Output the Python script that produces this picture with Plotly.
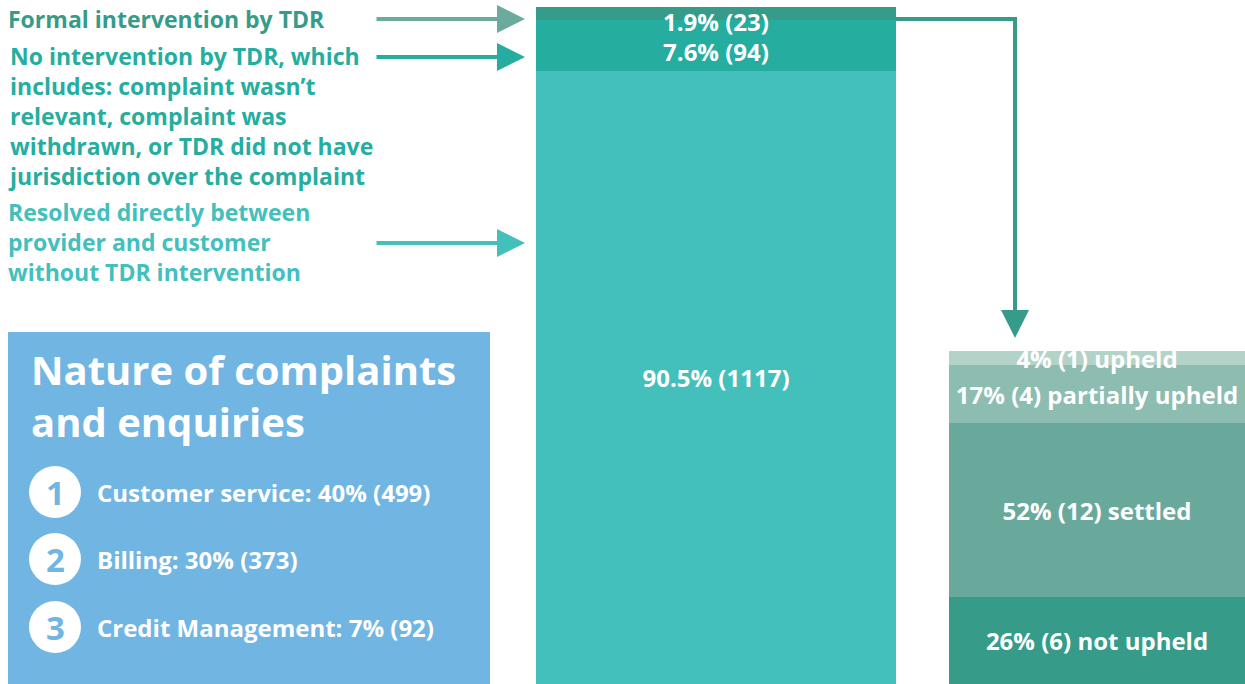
import plotly.graph_objects as go

# ---- data ----
main_categories = ["Resolved directly between provider and customer without TDR intervention",
                   "No intervention by TDR",
                   "Formal intervention by TDR"]
main_counts = [1117, 94, 23]
main_labels = ["90.5% (1117)", "7.6% (94)", "1.9% (23)"]

outcome_categories = ["not upheld", "settled", "partially upheld", "upheld"]
outcome_counts = [6, 12, 4, 1]
outcome_labels = ["26% (6) not upheld", "52% (12) settled", "17% (4) partially upheld", "4% (1) upheld"]

nature_title = "Nature of complaints<br>and enquiries"
nature_numbers = ["1", "2", "3"]
nature_labels = ["Customer service: 40% (499)", "Billing: 30% (373)", "Credit Management: 7% (92)"]

left_texts = [
    "Formal intervention by TDR",
    "No intervention by TDR, which<br>includes: complaint wasn\u2019t<br>relevant, complaint was<br>withdrawn, or TDR did not have<br>jurisdiction over the complaint",
    "Resolved directly between<br>provider and customer<br>without TDR intervention",
]

# ---- styles ----
W, H = 1245, 684
FONT = "Open Sans"
main_colors = ["#43bfbc", "#25ad9f", "#379b89"]
main_anchor = ["middle", "start", "middle"]
outcome_colors = ["#379b89", "#69a99c", "#8dbcb1", "#b3d3c9"]
left_text_colors = ["#379b89", "#25ad9f", "#43bfbc"]
arrow_colors = ["#6aab9e", "#25ad9f", "#43bfbc"]
BOX_BLUE = "#71b5e3"
LABEL_SIZE = 24


def py(p):
    return 1 - p / H


fig = go.Figure()

main_x, main_w = 716, 360
out_x, out_w = 1097, 296

for i, (cat, val, lab, col, anc) in enumerate(zip(main_categories, main_counts, main_labels,
                                                   main_colors, main_anchor)):
    is_top = i == len(main_counts) - 1
    fig.add_trace(go.Bar(
        x=[main_x], y=[val], width=[main_w], name=cat,
        marker=dict(color=col, line=dict(width=0)),
        text=None if is_top else [lab], textposition="inside", insidetextanchor=anc,
        constraintext="none", textangle=0,
        textfont=dict(family=FONT, size=LABEL_SIZE, color="white", weight=700),
        hoverinfo="skip", xaxis="x", yaxis="y",
    ))

for cat, val, lab, col in zip(outcome_categories, outcome_counts, outcome_labels, outcome_colors):
    fig.add_trace(go.Bar(
        x=[out_x], y=[val], width=[out_w], name=cat,
        marker=dict(color=col, line=dict(width=0)),
        text=[lab], textposition="inside", insidetextanchor="middle",
        constraintext="none", textangle=0,
        textfont=dict(family=FONT, size=LABEL_SIZE, color="white", weight=700),
        hoverinfo="skip", xaxis="x", yaxis="y2",
    ))

shapes = []
annotations = []

# label of the thin top segment, hung from the top of the main bar
annotations.append(dict(xref="x", yref="y", x=main_x, y=sum(main_counts), yanchor="top", yshift=4,
                        xanchor="center", text=main_labels[-1], showarrow=False,
                        font=dict(family=FONT, size=LABEL_SIZE, color="white", weight=700)))

# blue box
shapes.append(dict(type="rect", xref="paper", yref="paper", x0=8 / W, x1=490 / W, y0=py(684), y1=py(332),
                   fillcolor=BOX_BLUE, line=dict(width=0), layer="below"))
annotations.append(dict(xref="paper", yref="paper", x=29 / W, y=py(395), xanchor="left", yanchor="middle",
                        text=nature_title, align="left", showarrow=False,
                        font=dict(family=FONT, size=40, color="white", weight=700)))
for i, (num, lab) in enumerate(zip(nature_numbers, nature_labels)):
    cy = [492, 559, 627][i]
    shapes.append(dict(type="circle", xref="paper", yref="paper", x0=29 / W, x1=81 / W,
                       y0=py(cy + 26), y1=py(cy - 26),
                       fillcolor="white", line=dict(width=0)))
    annotations.append(dict(xref="paper", yref="paper", x=55 / W, y=py(cy), xanchor="center", yanchor="middle",
                            text=num, showarrow=False,
                            font=dict(family=FONT, size=33, color=BOX_BLUE, weight=700)))
    annotations.append(dict(xref="paper", yref="paper", x=95 / W, y=py(cy), xanchor="left", yanchor="middle",
                            text=lab, showarrow=False, align="left",
                            font=dict(family=FONT, size=24, color="white", weight=700)))

# left texts
for txt, cy, col in zip(left_texts, [19, 116, 242], left_text_colors):
    annotations.append(dict(xref="paper", yref="paper", x=6 / W, y=py(cy), xanchor="left", yanchor="middle",
                            text=txt, align="left", showarrow=False,
                            font=dict(family=FONT, size=23, color=col, weight=700)))

# left arrows
for cy, col in zip([19, 57, 243], arrow_colors):
    annotations.append(dict(xref="paper", yref="paper", x=525 / W, y=py(cy), ax=-150, ay=0,
                            text="", showarrow=True, arrowhead=2, arrowsize=1.4, arrowwidth=4,
                            arrowcolor=col, standoff=0))

# connector
shapes.append(dict(type="path", xref="paper", yref="paper",
                   path=f"M {896 / W},{py(19)} L {1015 / W},{py(19)} L {1015 / W},{py(320)}",
                   line=dict(color="#379b89", width=4)))
annotations.append(dict(xref="paper", yref="paper", x=1015 / W, y=py(338), ax=0, ay=-30,
                        text="", showarrow=True, arrowhead=2, arrowsize=1.4, arrowwidth=4,
                        arrowcolor="#379b89", standoff=0))

fig.update_layout(
    width=W, height=H, margin=dict(l=0, r=0, t=0, b=0),
    barmode="stack", showlegend=False,
    paper_bgcolor="white", plot_bgcolor="rgba(0,0,0,0)",
    xaxis=dict(range=[0, W], visible=False, fixedrange=True),
    yaxis=dict(range=[0, sum(main_counts)], domain=[0, 1 - 7 / H], visible=False, fixedrange=True),
    yaxis2=dict(range=[0, sum(outcome_counts)], domain=[0, 333 / H], anchor="x", visible=False, fixedrange=True),
    shapes=shapes, annotations=annotations,
)

fig.write_html("out.html", config={"displayModeBar": False},
               post_script="document.body.style.margin='0px';")
